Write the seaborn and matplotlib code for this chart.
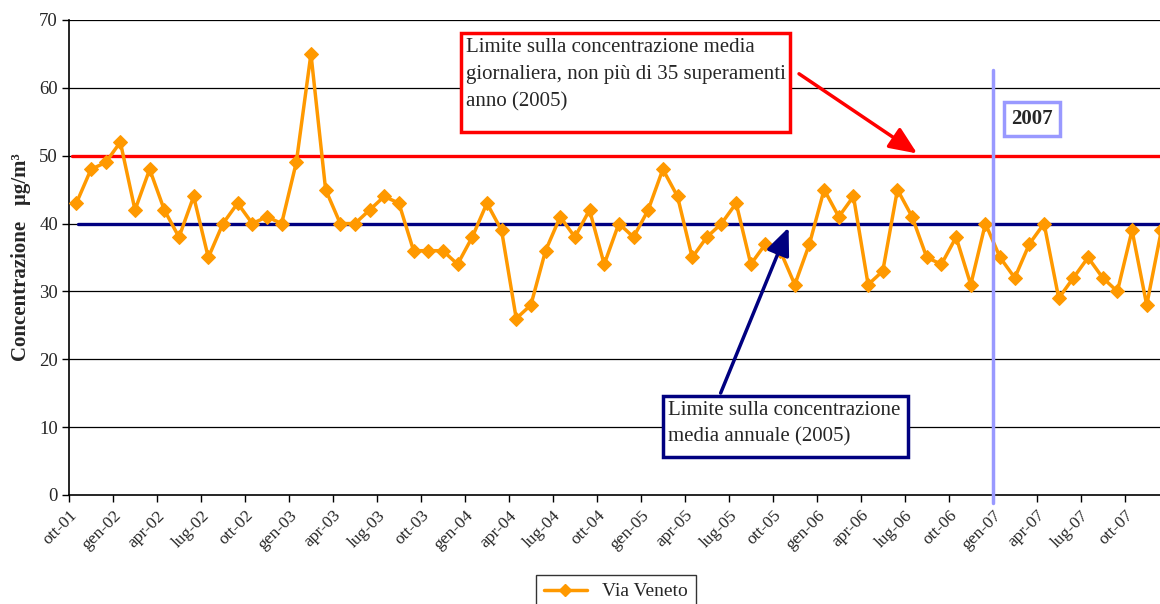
import numpy as np
import pandas as pd
import matplotlib
matplotlib.use('Agg')
import matplotlib.pyplot as plt
from matplotlib.patches import Rectangle
import seaborn as sns

# Monthly PM10 concentration, Via Veneto, ott-01 .. dic-07
via_veneto = [43, 48, 49, 52, 42, 48, 42, 38, 44, 35, 40, 43,
              40, 41, 40, 49, 65, 45, 40, 40, 42, 44, 43, 36,
              36, 36, 34, 38, 43, 39, 26, 28, 36, 41, 38, 42,
              34, 40, 38, 42, 48, 44, 35, 38, 40, 43, 34, 37,
              36, 31, 37, 45, 41, 44, 31, 33, 45, 41, 35, 34,
              38, 31, 40, 35, 32, 37, 40, 29, 32, 35, 32, 30,
              39, 28, 39]

tick_labels = ['ott-01', 'gen-02', 'apr-02', 'lug-02', 'ott-02', 'gen-03', 'apr-03',
               'lug-03', 'ott-03', 'gen-04', 'apr-04', 'lug-04', 'ott-04', 'gen-05',
               'apr-05', 'lug-05', 'ott-05', 'gen-06', 'apr-06', 'lug-06', 'ott-06',
               'gen-07', 'apr-07', 'lug-07', 'ott-07']

limite_giornaliero = 50
limite_annuale = 40
inizio_2007 = 63  # index of gen-07

df = pd.DataFrame({'mese': np.arange(len(via_veneto)), 'conc': via_veneto})

sns.set_theme(style='white')
plt.rcParams['font.family'] = ['Liberation Serif', 'DejaVu Serif']

fig = plt.figure(figsize=(11.6, 6.04), dpi=100)
ax = fig.add_axes([0.0595, 0.1805, 0.948, 0.7864])

# grid lines
for yv in range(10, 80, 10):
    ax.axhline(yv, color='black', lw=0.9, zorder=1)

ax.plot([-0.29, 80], [limite_giornaliero] * 2, color='#FF0000', lw=2.4, zorder=2)
ax.plot([0.12, 80], [limite_annuale] * 2, color='#000080', lw=2.4, zorder=2)

sns.lineplot(data=df, x='mese', y='conc', ax=ax, color='#FF9900', lw=2.5,
             marker='D', markersize=7, markeredgecolor='#FF9900',
             label='Via Veneto', zorder=3, legend=False)

ax.plot([inizio_2007 - 0.5] * 2, [-1.2, 62.6], color='#9999FF', lw=2.5,
        clip_on=False, zorder=4)

ax.set_xlim(-0.5, 74.5)
ax.set_ylim(0, 70)
ax.set_yticks(range(0, 80, 10))
ax.set_xticks(np.arange(0, 75, 3) - 0.5)
ax.set_xticklabels(tick_labels, rotation=45, ha='right', rotation_mode='anchor',
                   fontsize=12.5)
ax.tick_params(axis='x', length=5, width=1, color='black', pad=4, direction='out',
               bottom=True)
ax.tick_params(axis='y', length=5, width=1, color='black', labelsize=13.5,
               direction='out', left=True, pad=3)
for side in ['top', 'right']:
    ax.spines[side].set_visible(False)
for side in ['left', 'bottom']:
    ax.spines[side].set_color('black')
    ax.spines[side].set_linewidth(1.2)

ax.set_xlabel('')
ax.set_ylabel('Concentrazione   µg/m³', fontsize=15, fontweight='bold', labelpad=6)

# annotation: daily limit
ax.add_patch(Rectangle((26.2, 53.55), 22.45, 14.55, facecolor='white',
                       edgecolor='#FF0000', lw=2.5, zorder=5))
ax.text(26.6, 67.3, 'Limite sulla concentrazione media\n'
        'giornaliera, non più di 35 superamenti\nanno (2005)',
        fontsize=15, va='top', ha='left', linespacing=1.55, zorder=6)
ax.annotate('', xy=(57.5, 50.1), xytext=(49.13, 62.3),
            arrowprops=dict(arrowstyle='-|>,head_length=1.4,head_width=0.6',
                            color='#FF0000', lw=2.5), zorder=6)

# annotation: annual limit
ax.add_patch(Rectangle((39.98, 5.64), 16.75, 9.0, facecolor='white',
                       edgecolor='#000080', lw=2.5, zorder=5))
ax.text(40.35, 13.8, 'Limite sulla concentrazione\nmedia annuale (2005)',
        fontsize=15, va='top', ha='left', linespacing=1.5, zorder=6)
ax.annotate('', xy=(48.65, 39.8), xytext=(43.87, 14.64),
            arrowprops=dict(arrowstyle='-|>,head_length=1.4,head_width=0.6',
                            color='#000080', lw=2.5), zorder=6)

# 2007 label
ax.text(65.15, 55.4, '2007', fontsize=15, fontweight='bold', ha='center',
        va='center', zorder=6,
        bbox=dict(boxstyle='square,pad=0.35', facecolor='white',
                  edgecolor='#9999FF', lw=2.5))

handles = [plt.Line2D([], [], color='#FF9900', lw=2.5, marker='D', markersize=6)]
leg = fig.legend(handles, ['Via Veneto'], loc='upper center',
                 bbox_to_anchor=(616 / 1160, 1 - 575 / 604), fontsize=14,
                 frameon=True, fancybox=False, edgecolor='black',
                 handlelength=2.2, borderpad=0.4, borderaxespad=0)
leg.get_frame().set_linewidth(1.0)

fig.savefig('out.png', dpi=100)
